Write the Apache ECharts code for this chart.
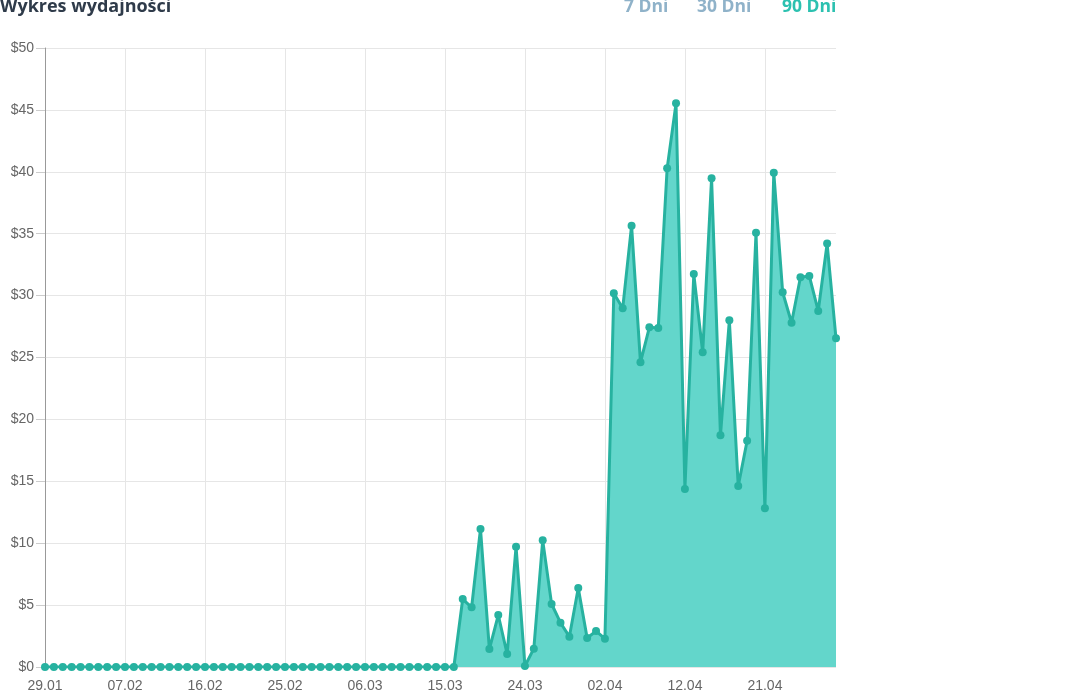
<!DOCTYPE html>
<html>
<head>
<meta charset="utf-8">
<script src="https://cdn.jsdelivr.net/npm/echarts@6/dist/echarts.min.js"></script>
<style>
  html, body { margin: 0; padding: 0; background: #fff; }
  #chart { width: 1080px; height: 698px; }
</style>
</head>
<body>
<div id="chart"></div>
<script>
// daily dates (one day is missing between 02.04 and 12.04 in the source)
const days = [
  "29.01", "30.01", "31.01", "01.02", "02.02", "03.02", "04.02", "05.02", "06.02",
  "07.02", "08.02", "09.02", "10.02", "11.02", "12.02", "13.02", "14.02", "15.02",
  "16.02", "17.02", "18.02", "19.02", "20.02", "21.02", "22.02", "23.02", "24.02",
  "25.02", "26.02", "27.02", "28.02", "01.03", "02.03", "03.03", "04.03", "05.03",
  "06.03", "07.03", "08.03", "09.03", "10.03", "11.03", "12.03", "13.03", "14.03",
  "15.03", "16.03", "17.03", "18.03", "19.03", "20.03", "21.03", "22.03", "23.03",
  "24.03", "25.03", "26.03", "27.03", "28.03", "29.03", "30.03", "31.03", "01.04",
  "02.04", "03.04", "04.04", "05.04", "06.04", "08.04", "09.04", "10.04", "11.04",
  "12.04", "13.04", "14.04", "15.04", "16.04", "17.04", "18.04", "19.04", "20.04",
  "21.04", "22.04", "23.04", "24.04", "25.04", "26.04", "27.04", "28.04", "29.04"
];

// spend per day, $
const spend = [
  0, 0, 0, 0, 0, 0, 0, 0, 0,
  0, 0, 0, 0, 0, 0, 0, 0, 0,
  0, 0, 0, 0, 0, 0, 0, 0, 0,
  0, 0, 0, 0, 0, 0, 0, 0, 0,
  0, 0, 0, 0, 0, 0, 0, 0, 0,
  0, 0, 5.49, 4.82, 11.15, 1.45, 4.2, 1.05, 9.72,
  0.08, 1.48, 10.23, 5.09, 3.58, 2.45, 6.38, 2.34, 2.9,
  2.29, 30.19, 28.97, 35.65, 24.61, 27.44, 27.38, 40.28, 45.53,
  14.38, 31.74, 25.42, 39.47, 18.71, 28.0, 14.62, 18.28, 35.08,
  12.82, 39.93, 30.27, 27.81, 31.48, 31.58, 28.76, 34.2, 26.55
];

const ranges = ["7 Dni", "30 Dni", "90 Dni"];
const activeRange = "90 Dni";

const chart = echarts.init(document.getElementById("chart"), null, { renderer: "canvas" });

const rangeX = [624, 697, 782];

chart.setOption({
  backgroundColor: "#ffffff",
  animation: false,
  graphic: [
    {
      type: "text",
      left: 0,
      top: -2,
      style: {
        text: "Wykres wydajności",
        fill: "#2f3b4a",
        font: "bold 18px 'Open Sans', sans-serif"
      }
    },
    ...ranges.map((r, i) => ({
      type: "text",
      left: rangeX[i],
      top: -2,
      style: {
        text: r,
        fill: r === activeRange ? "#2cc1b0" : "#8fb2c9",
        font: "bold 17.5px 'Open Sans', sans-serif"
      }
    }))
  ],
  grid: {
    left: 45,
    right: 244,
    top: 48,
    bottom: 31,
    containLabel: false
  },
  xAxis: {
    type: "category",
    boundaryGap: false,
    data: days,
    axisLine: { show: false },
    axisTick: { show: false },
    axisLabel: {
      interval: 8,
      color: "#666",
      fontSize: 14,
      fontFamily: "'Liberation Sans', Arial, sans-serif",
      margin: 12
    },
    splitLine: {
      show: true,
      interval: 8,
      lineStyle: { color: "#e6e6e6", width: 1 }
    }
  },
  yAxis: {
    type: "value",
    min: 0,
    max: 50,
    interval: 5,
    axisLine: { show: true, lineStyle: { color: "#999", width: 1 } },
    axisTick: { show: true, length: 9, lineStyle: { color: "#ccc" } },
    axisLabel: {
      color: "#666",
      fontSize: 14,
      fontFamily: "'Liberation Sans', Arial, sans-serif",
      margin: 11,
      formatter: (v) => "$" + v
    },
    splitLine: { lineStyle: { color: "#e6e6e6", width: 1 } }
  },
  series: [
    {
      type: "line",
      data: spend,
      symbol: "circle",
      symbolSize: 8,
      showAllSymbol: true,
      lineStyle: { color: "#27b2a0", width: 3 },
      itemStyle: { color: "#27b2a0" },
      areaStyle: { color: "#63d6cb", opacity: 1 }
    }
  ]
});
</script>
</body>
</html>
